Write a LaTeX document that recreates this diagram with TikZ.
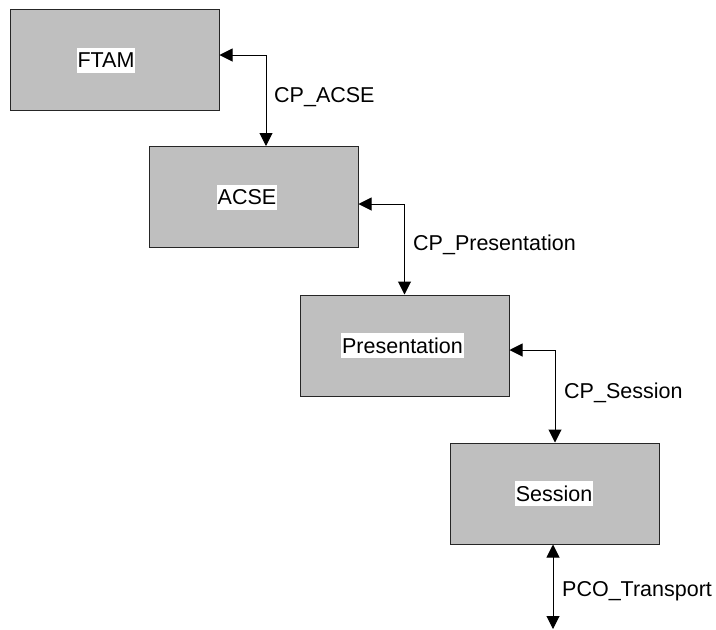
\documentclass[tikz,border=0pt]{standalone}
\usepackage{fontspec}
\setmainfont{Liberation Sans}
\usetikzlibrary{arrows.meta}
\begin{document}
\begin{tikzpicture}[x=1pt,y=-1pt,
  layer/.style={draw=black!85,fill=black!25,line width=1pt,minimum width=209pt,minimum height=101pt,inner sep=0pt},
  tag/.style={fill=white,inner xsep=1pt,inner ysep=0pt,text height=20pt,text depth=5pt,font=\fontsize{21.5}{24}\selectfont},
  conn/.style={line width=1pt,{Triangle[length=13pt,width=13pt]}-{Triangle[length=13pt,width=13pt]}},
  lbl/.style={anchor=base west,inner sep=0pt,font=\fontsize{21.5}{24}\selectfont}]
\useasboundingbox (0,0) rectangle (716,630);
% protocol layers
\node[layer] (ftam) at (114.5,60) {};
\node[layer] (acse) at (253.5,197) {};
\node[layer] (pres) at (404.5,345.5) {};
\node[layer] (sess) at (555,493.5) {};
\node[tag] (ftamt) at (106,60) {FTAM};
\node[tag] (acset) at (247,197) {ACSE};
\node[tag] (prest) at (402.5,345.5) {Presentation};
\node[tag] (sesst) at (554,493.5) {Session};
% connection points between layers
\coordinate (bottom) at (553,629);
\draw[conn] ([yshift=5pt]ftam.east) -| ([xshift=12.5pt]acse.north);
\draw[conn] ([yshift=-7pt]acse.east) -| (pres.north);
\draw[conn] ([yshift=-4.5pt]pres.east) -| (sess.north);
\draw[conn] ([xshift=-2pt]sess.south) -- (bottom);
% point labels
\node[lbl] (l1) at (274,102) {CP\_ACSE};
\node[lbl] (l2) at (413,250) {CP\_Presentation};
\node[lbl] (l3) at (564,398) {CP\_Session};
\node[lbl] (l4) at (562,596) {PCO\_Transport};
\end{tikzpicture}
\end{document}
